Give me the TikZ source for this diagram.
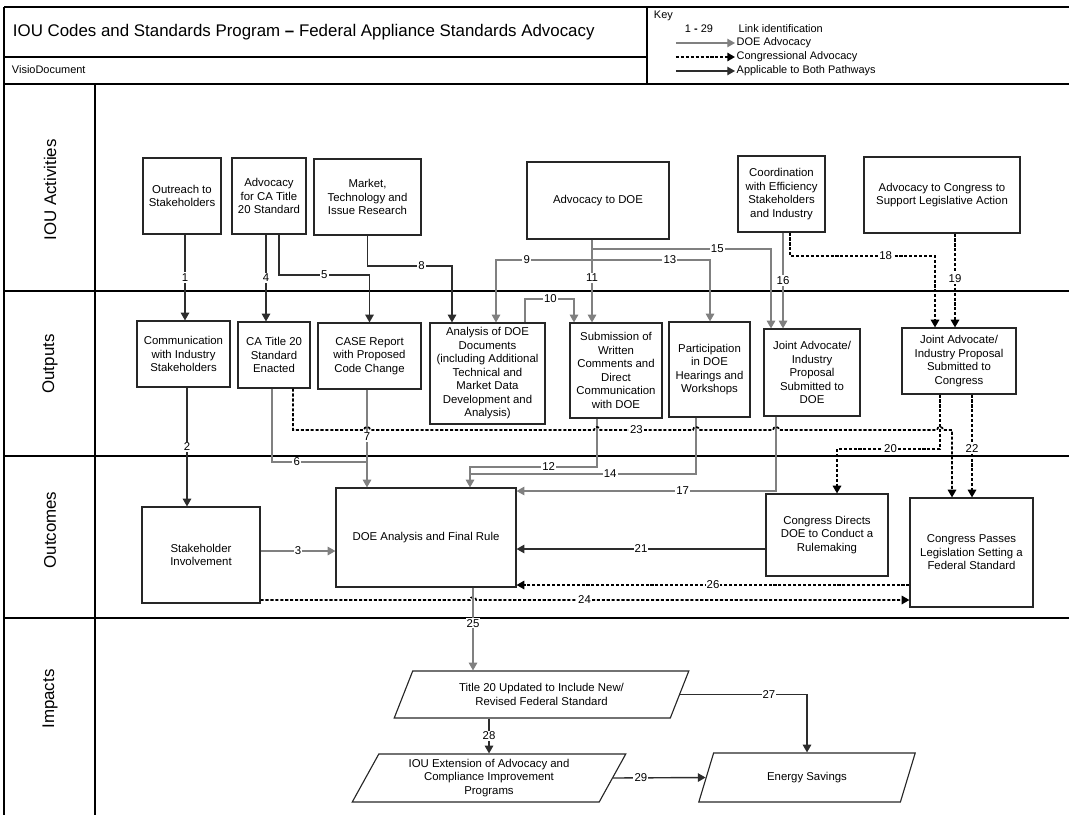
\documentclass[tikz,border=0pt]{standalone}
\usepackage{fontspec}
\setmainfont{Liberation Sans}
\usetikzlibrary{arrows.meta}
\usetikzlibrary{shapes.geometric}

\definecolor{doegray}{RGB}{128,128,128}
\definecolor{linedark}{RGB}{45,45,45}
\newcommand\boxfnt{\fontsize{8.1}{9.6}\selectfont}
\newcommand\titlefnt{\fontsize{12}{14}\selectfont}
\newcommand\lanefnt{\fontsize{12}{14}\selectfont}
\newcommand\keyfnt{\fontsize{7.8}{9}\selectfont}

\tikzset{
  box/.style={draw=black!85,line width=0.8pt,align=center,font=\boxfnt,inner sep=1pt},
  sz/.style 2 args={minimum width=#1*0.025cm,minimum height=#2*0.025cm},
  para/.style={box,trapezium,trapezium left angle=64,trapezium right angle=116,trapezium stretches=true},
  gridline/.style={draw=black,line width=0.8pt},
  doearr/.style={draw=doegray,line width=1pt,-{Triangle[length=5.5pt,width=6pt]}},
  botharr/.style={draw=linedark,line width=1pt,-{Triangle[length=5.5pt,width=6pt]}},
  congarr/.style={draw=black,line width=1.2pt,dash pattern=on 2.2pt off 1.3pt,-{Triangle[length=5.5pt,width=6pt]}},
  lbl/.style={fill=white,inner sep=0.8pt,font=\boxfnt},
  lane/.style={rotate=90,font=\lanefnt}
}

\begin{document}
\begin{tikzpicture}[x=0.025cm,y=-0.025cm]
\useasboundingbox (0,0) rectangle (1069,815);
\draw[gridline] (4,7) -- (1069,7);
\draw[gridline] (4,84) -- (1069,84);
\draw[gridline] (4,7) -- (4,815);
\draw[gridline] (647,7) -- (647,84);
\draw[gridline] (4,57) -- (647,57);
\node[anchor=west,font=\titlefnt] (title) at (8,32) {IOU Codes and Standards Program \textbf{–} Federal Appliance Standards Advocacy};
\node[anchor=west,font=\keyfnt] (visio) at (7,70) {VisioDocument};
\node[anchor=west,font=\keyfnt] (key) at (649,16) {Key};
\node[font=\keyfnt] (kid) at (699,29) {1 \textbf{-} 29};
\node[anchor=west,font=\keyfnt,inner sep=1pt] (klink) at (737,29) {Link identification};
\node[anchor=west,font=\keyfnt,inner sep=1pt] (kdoe) at (735,43) {DOE Advocacy};
\node[anchor=west,font=\keyfnt,inner sep=1pt] (kcong) at (735,57) {Congressional Advocacy};
\node[anchor=west,font=\keyfnt,inner sep=1pt] (kboth) at (735,71) {Applicable to Both Pathways};
\draw[doearr] ([xshift=-1.475cm]kdoe.west) -- (kdoe.west);
\draw[congarr] ([xshift=-1.475cm]kcong.west) -- (kcong.west);
\draw[botharr] ([xshift=-1.475cm]kboth.west) -- (kboth.west);

\foreach \y in {291,456,618} \draw[gridline] (4,\y) -- (1069,\y);
\draw[gridline] (95,84) -- (95,815);
\node[lane] (lact) at (50,190) {IOU Activities};
\node[lane] (lout) at (50,364) {Outputs};
\node[lane] (lcome) at (50,530) {Outcomes};
\node[lane] (limp) at (50,699) {Impacts};

\node[box,sz={78}{76}] (out) at (182,196) {Outreach to\\Stakeholders};
\node[box,sz={74}{76}] (adv20) at (269,196) {Advocacy\\for CA Title\\20 Standard};
\node[box,sz={107}{76}] (mkt) at (367.5,197) {Market,\\Technology and\\Issue Research};
\node[box,sz={142}{77}] (advdoe) at (598,200.5) {Advocacy to DOE};
\node[box,sz={87}{76}] (coord) at (781.5,194) {Coordination\\with Efficiency\\Stakeholders\\and Industry};
\node[box,sz={156}{76}] (advcong) at (942,195) {Advocacy to Congress to\\Support Legislative Action};

\node[box,sz={93}{66}] (comm) at (183.5,354) {Communication\\with Industry\\Stakeholders};
\node[box,sz={72}{66}] (ca20) at (274,355) {CA Title 20\\Standard\\Enacted};
\node[box,sz={103}{66}] (case) at (369.5,356) {CASE Report\\with Proposed\\Code Change};
\node[box,sz={115}{101}] (anal) at (487.5,373.5) {Analysis of DOE\\Documents\\(including Additional\\Technical and\\Market Data\\Development and\\Analysis)};
\node[box,sz={92}{95}] (subm) at (616,370.5) {Submission of\\Written\\Comments and\\Direct\\Communication\\with DOE};
\node[box,sz={81}{95}] (part) at (709.5,369.5) {Participation\\in DOE\\Hearings and\\Workshops};
\node[box,sz={96}{87}] (jdoe) at (812,372.5) {Joint Advocate/\\Industry\\Proposal\\Submitted to\\DOE};
\node[box,sz={114}{66}] (jcong) at (959,361) {Joint Advocate/\\Industry Proposal\\Submitted to\\Congress};

\node[box,sz={118}{96}] (stake) at (201,555) {Stakeholder\\Involvement};
\node[box,sz={180}{99}] (doe) at (426,537.5) {DOE Analysis and Final Rule};
\node[box,sz={122}{82}] (cdir) at (827,535) {Congress Directs\\DOE to Conduct a\\Rulemaking};
\node[box,sz={123}{109}] (cpass) at (971.5,552.5) {Congress Passes\\Legislation Setting a\\Federal Standard};

\node[para,sz={295}{47}] (t20) at (541.5,694.5) {Title 20 Updated to Include New/\\Revised Federal Standard};
\node[para,sz={274}{48}] (ioux) at (489,778) {IOU Extension of Advocacy and\\Compliance Improvement\\Programs};
\node[para,sz={218}{49}] (energy) at (807,777.5) {Energy Savings};

\coordinate (j13) at (592,260);
\coordinate (j15) at (592,249);
\draw[botharr] (out.south -| 185,0) -- (comm.north -| 185,0) node[lbl,midway] {1};
\draw[botharr] (comm.south -| 187,0) -- (stake.north -| 187,0) node[lbl,midway] {2};
\draw[doearr] (stake.east |- 0,551) -- (doe.west |- 0,551) node[lbl,midway] {3};
\draw[botharr] (adv20.south -| 266,0) -- (ca20.north -| 266,0) node[lbl,midway] {4};
\draw[botharr] (adv20.south -| 279,0) -- (279,275) -| (case.north) node[lbl,pos=0.25] {5};
\draw[doearr,-] (ca20.south -| 272,0) |- (367,462) node[lbl,pos=0.63] {6};
\draw[doearr] (case.south -| 367,0) -- (doe.north -| 367,0) node[lbl,pos=0.48] {7};
\draw[botharr] (mkt.south) -- (mkt.south |- 0,266) -| (anal.north -| 452,0) node[lbl,pos=0.32] {8};
\draw[doearr] (j13) -| (anal.north -| 496,0) node[lbl,pos=0.34] {9};
\draw[doearr] (anal.north -| 525,0) -- (525,299) -| (subm.north -| 574,0) node[lbl,pos=0.26] {10};
\draw[doearr] (advdoe.south -| 592,0) -- (subm.north -| 592,0) node[lbl,pos=0.46] {11};
\draw[doearr] (subm.south -| 597,0) -- (597,467) -| (doe.north -| 470,0) node[lbl,pos=0.19] {12};
\draw[doearr] (j13) -| (part.north -| 710,0) node[lbl,pos=0.33] {13};
\draw[doearr,-] (part.south -| 696,0) |- (470,474) node[lbl,pos=0.69] {14};
\draw[doearr] (j15) -| (jdoe.north -| 771,0) node[lbl,pos=0.35] {15};
\draw[doearr] (coord.south -| 783,0) -- (jdoe.north -| 783,0) node[lbl,midway] {16};
\draw[doearr] (jdoe.south -| 776,0) |- (doe.east |- 0,491) node[lbl,pos=0.68] {17};
\draw[congarr] (coord.south -| 790,0) -- (790,256) -| (jcong.north -| 935,0) node[lbl,pos=0.33] {18};
\draw[congarr] (advcong.south -| 955,0) -- (jcong.north -| 955,0) node[lbl,pos=0.48] {19};
\draw[congarr] (jcong.south -| 940,0) -- (940,449) -| (cdir.north -| 837,0) node[lbl,pos=0.24] {20};
\draw[botharr] (cdir.west |- 0,549) -- (doe.east |- 0,549) node[lbl,midway] {21};
\draw[congarr] (jcong.south -| 972,0) -- (cpass.north -| 972,0) node[lbl,pos=0.52] {22};
\draw[congarr] (ca20.south -| 293,0) -- (293,430) -- (364,430) arc[start angle=180,end angle=0,radius=2.2pt]
  -- (594,430) arc[start angle=180,end angle=0,radius=2.2pt]
  -- (693,430) node[lbl,pos=0.39] {23} arc[start angle=180,end angle=0,radius=2.2pt]
  -- (773,430) arc[start angle=180,end angle=0,radius=2.2pt]
  -- (937,430) arc[start angle=180,end angle=0,radius=2.2pt]
  -- (952,430) -- (cpass.north -| 952,0);
\draw[congarr] (stake.east |- 0,600) -- (470,600) arc[start angle=180,end angle=0,radius=2.2pt] -- (cpass.west |- 0,600) node[lbl,pos=0.25] {24};
\draw[doearr] (doe.south -| 473,0) -- (t20.north -| 473,0) node[lbl,pos=0.43] {25};
\draw[congarr] (cpass.west |- 0,585) -- (doe.east |- 0,585) node[lbl,midway] {26};
\draw[botharr] (t20.east) -| (energy.north) node[lbl,pos=0.35] {27};
\draw[botharr] (t20.south -| ioux.north) -- (ioux.north) node[lbl,midway] {28};
\draw[botharr] (ioux.east) -- (energy.west) node[lbl,pos=0.3] {29};
\end{tikzpicture}
\end{document}
